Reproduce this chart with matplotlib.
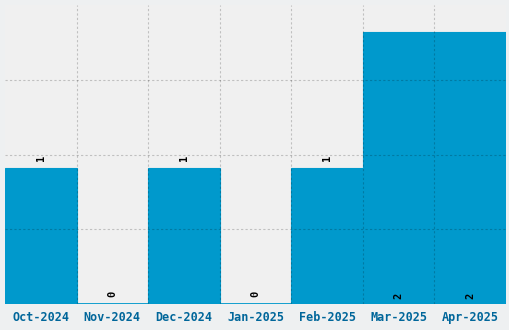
import numpy as np
import matplotlib
matplotlib.use("Agg")
import matplotlib.pyplot as plt

months = ["Oct-2024", "Nov-2024", "Dec-2024", "Jan-2025", "Feb-2025", "Mar-2025", "Apr-2025"]
counts = [1, 0, 1, 0, 1, 2, 2]

BAR = "#0099cc"
fig = plt.figure(figsize=(5.1, 3.3), dpi=100, facecolor="#eef0f1")
ax = fig.add_axes([5 / 510, 26 / 330, 501 / 510, 299 / 330])
ax.set_facecolor("#f0f0f0")

x = np.arange(len(months))
ax.bar(x, counts, width=1.0, color=BAR, edgecolor=BAR, linewidth=0.8, zorder=1)
# zero-height bars still show a thin line at the base
ax.axhline(0, color=BAR, linewidth=2, zorder=1)

ax.set_xlim(-0.5, len(months) - 0.5)
ax.set_ylim(0, 2.2)

# grid on category boundaries and every 0.55
ax.set_xticks(x)
ax.set_xticks(np.arange(0.5, len(months) - 0.5, 1), minor=True)
ax.set_yticks(np.arange(0.55, 2.2, 0.55))
ax.grid(True, which="minor", axis="x", color="k", alpha=0.2, linestyle=(0, (2, 2)), linewidth=0.8, zorder=2)
ax.grid(True, which="major", axis="y", color="k", alpha=0.2, linestyle=(0, (2, 2)), linewidth=0.8, zorder=2)
ax.set_axisbelow(False)

ax.set_xticklabels(months, family="DejaVu Sans Mono", fontsize=8.5, fontweight="bold", color="#00669a")
ax.set_yticklabels([])
ax.tick_params(which="both", length=0, pad=5)
for s in ax.spines.values():
    s.set_visible(False)

# value labels
for xi, v in zip(x, counts):
    y = 0.04 if v == 2 else v + 0.05
    ax.text(xi, y, str(v), rotation=90, ha="center", va="bottom", family="DejaVu Sans Mono",
            fontsize=7.5, fontweight="bold", color="black", zorder=3)

fig.savefig("out.png", dpi=100, facecolor=fig.get_facecolor())
